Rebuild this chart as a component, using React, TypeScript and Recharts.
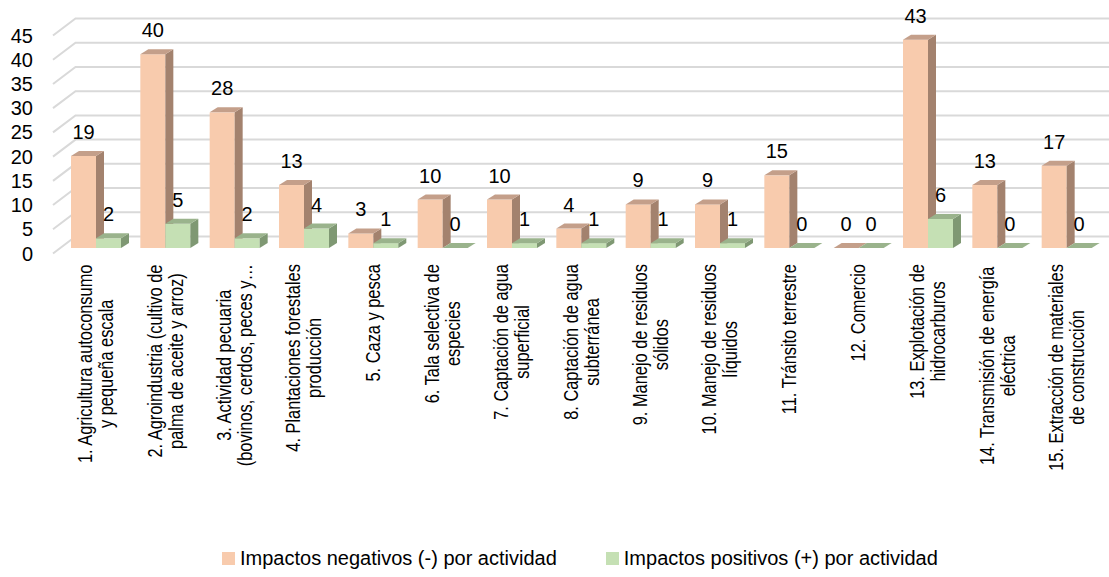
import { Bar, BarChart, CartesianGrid, LabelList, Legend, XAxis, YAxis } from "recharts";

const categories = [
  "1. Agricultura autoconsumo\ny pequeña escala",
  "2. Agroindustria (cultivo de\npalma de aceite y arroz)",
  "3. Actividad pecuaria\n(bovinos, cerdos, peces y…",
  "4. Plantaciones forestales\nproducción",
  "5. Caza y pesca",
  "6. Tala selectiva de\nespecies",
  "7. Captación de agua\nsuperficial",
  "8. Captación de agua\nsubterránea",
  "9. Manejo de residuos\nsólidos",
  "10. Manejo de residuos\nlíquidos",
  "11. Tránsito terrestre",
  "12. Comercio",
  "13. Explotación de\nhidrocarburos",
  "14.  Transmisión de energía\neléctrica",
  "15. Extracción de materiales\nde construcción",
];
const negativos = [19, 40, 28, 13, 3, 10, 10, 4, 9, 9, 15, 0, 43, 13, 17];
const positivos = [2, 5, 2, 4, 1, 0, 1, 1, 1, 1, 0, 0, 6, 0, 0];
const yTicks = [0, 5, 10, 15, 20, 25, 30, 35, 40, 45];
const seriesNames = ["Impactos negativos (-) por actividad", "Impactos positivos (+) por actividad"];

const data = categories.map((name, i) => ({ name, neg: negativos[i], pos: positivos[i] }));

const FONT = '"Liberation Sans", Arial, sans-serif';
const DX = 8;
const DY = 5;
const SQUEEZE = 0.82; // category labels look condensed along their length

const ORANGE = { front: "#F8CBAD", top: "#C49F8A", side: "#A3826E" };
const GREEN = { front: "#C5E0B4", top: "#9AB38C", side: "#7F9873" };

let ctx: CanvasRenderingContext2D | null = null;
const measure = (s: string, fs: number) => {
  if (!ctx) ctx = document.createElement("canvas").getContext("2d");
  if (!ctx) return s.length * fs * 0.5;
  ctx.font = `${fs}px "Liberation Sans"`;
  return ctx.measureText(s).width;
};

const makeBar = (c: { front: string; top: string; side: string }) => (props: any) => {
  const { x, y, width: w, height: h } = props;
  return (
    <g>
      {h > 0 && <rect x={x} y={y} width={w} height={h} fill={c.front} />}
      {h > 0 && (
        <polygon
          points={`${x + w},${y} ${x + w + DX},${y - DY} ${x + w + DX},${y + h - DY} ${x + w},${y + h}`}
          fill={c.side}
        />
      )}
      <polygon points={`${x},${y} ${x + w},${y} ${x + w + DX},${y - DY} ${x + DX},${y - DY}`} fill={c.top} />
    </g>
  );
};

const ValueLabel = (props: any) => {
  const { x, y, width, value } = props;
  return (
    <text x={x + width / 2} y={y - 24} textAnchor="middle" dominantBaseline="central" fontSize={20} fontFamily={FONT} fill="#000">
      {value}
    </text>
  );
};

const CatTick = (props: any) => {
  const { x, y, payload } = props;
  const lines = String(payload.value).split("\n");
  const fs = 20;
  const w = Math.max(...lines.map((l) => measure(l, fs))) * SQUEEZE;
  const n = lines.length;
  return (
    <g transform={`translate(${x},${y + w / 2}) rotate(-90) scale(${SQUEEZE},1)`}>
      {lines.map((l, i) => (
        <text key={i} x={0} y={(i - (n - 1) / 2) * 21} textAnchor="middle" dominantBaseline="central" fontSize={fs} fontFamily={FONT} fill="#000">
          {l}
        </text>
      ))}
    </g>
  );
};

const ValTick = (props: any) => {
  const { y, payload } = props;
  return (
    <text x={33} y={y + 5.5} textAnchor="end" dominantBaseline="central" fontSize={20} fontFamily={FONT} fill="#000">
      {payload.value}
    </text>
  );
};

const GridLine = (props: any) => {
  const { x1, x2, y1 } = props;
  return (
    <polyline
      key={props.key}
      points={`${x1 - 8},${y1 + 5.5} ${x1 + 14.5},${y1 - 11.5} ${x2 + 8},${y1 - 11.5}`}
      fill="none"
      stroke="#D9D9D9"
      strokeWidth={2}
    />
  );
};

const LegendContent = () => (
  <div style={{ display: "flex", alignItems: "center", height: 36, paddingLeft: 222, gap: 49, fontFamily: FONT, fontSize: 20, color: "#000" }}>
    {[ORANGE.front, GREEN.front].map((col, i) => (
      <div key={i} style={{ display: "flex", alignItems: "center", gap: 5 }}>
        <span style={{ display: "inline-block", width: 13, height: 13, background: col }} />
        <span>{seriesNames[i]}</span>
      </div>
    ))}
  </div>
);

export default function App() {
  return (
    <div style={{ position: "absolute", left: 0, top: 0, background: "#fff" }}>
      <BarChart width={1109} height={577} data={data} margin={{ top: 30, right: 8, left: 0, bottom: 43 }} barGap={0} barSize={25}>
        <CartesianGrid vertical={false} horizontal={GridLine} />
        <XAxis dataKey="name" interval={0} height={250} tickSize={0} tickMargin={16} axisLine={false} tickLine={false} tick={CatTick} />
        <YAxis width={61} domain={[0, 45]} ticks={yTicks} axisLine={false} tickLine={false} tick={ValTick} />
        <Legend
          verticalAlign="bottom"
          content={LegendContent}
          wrapperStyle={{ left: 0, width: 1109, top: 540, bottom: "auto", height: 36 }}
        />
        <Bar dataKey="neg" name={seriesNames[0]} fill={ORANGE.front} shape={makeBar(ORANGE)} isAnimationActive={false}>
          <LabelList dataKey="neg" content={ValueLabel} />
        </Bar>
        <Bar dataKey="pos" name={seriesNames[1]} fill={GREEN.front} shape={makeBar(GREEN)} isAnimationActive={false}>
          <LabelList dataKey="pos" content={ValueLabel} />
        </Bar>
      </BarChart>
    </div>
  );
}
